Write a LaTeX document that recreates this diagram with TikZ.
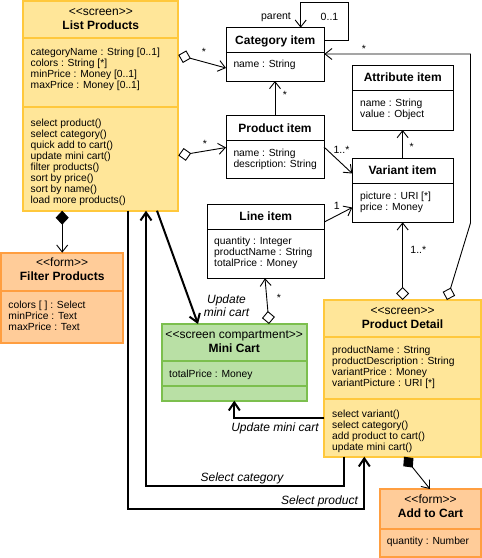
\documentclass[tikz,border=0pt]{standalone}
\usepackage{fontspec}
\newfontfamily\uif{Liberation Sans}
\usetikzlibrary{arrows.meta,calc}
\definecolor{scrfill}{HTML}{FFE699}
\definecolor{scrdraw}{HTML}{FFC83C}
\definecolor{frmfill}{HTML}{FFCC99}
\definecolor{frmdraw}{HTML}{FF9E40}
\definecolor{cmpfill}{HTML}{B9E0A5}
\definecolor{cmpdraw}{HTML}{7CBF4E}
\tikzset{
  cls/.style={rectangle, inner sep=0pt, outer sep=0pt, anchor=north west},
  plainbox/.style={cls, draw=black, fill=white, line width=0.9pt},
  scrbox/.style={cls, draw=scrdraw, fill=scrfill, line width=2pt},
  frmbox/.style={cls, draw=frmdraw, fill=frmfill, line width=2pt},
  cmpbox/.style={cls, draw=cmpdraw, fill=cmpfill, line width=2pt},
  stereo/.style={anchor=base, inner sep=0pt, font=\uif\fontsize{12}{13}\selectfont},
  ttl/.style={anchor=base, inner sep=0pt, font=\uif\bfseries\fontsize{12}{13}\selectfont},
  members/.style={anchor=base west, inner sep=0pt, align=left, font=\uif\fontsize{10.3}{11}\selectfont},
  mult/.style={inner sep=0pt, font=\uif\fontsize{10.5}{11}\selectfont},
  navlbl/.style={inner sep=0pt, font=\uif\itshape\fontsize{12}{13}\selectfont},
  assoc/.style={line width=0.9pt, -{Straight Barb[length=7pt,width=11pt]}},
  aggr/.style={line width=0.9pt, {Diamond[open,fill=white,length=13pt,width=13pt]}-{Straight Barb[length=7pt,width=11pt]}},
  compo/.style={line width=0.9pt, {Diamond[fill=black,length=14pt,width=13pt]}-{Straight Barb[length=7pt,width=11pt]}},
  nav/.style={line width=2pt, -{Straight Barb[length=8pt,width=11pt]}},
}
\begin{document}
\begin{tikzpicture}[x=1pt,y=-1pt]
\useasboundingbox (0,0) rectangle (482,558);

% (multi-line member nodes are anchored at the baseline of their last line)

% ---------- List Products ----------
\node[scrbox, minimum width=155pt, minimum height=209.4pt] (lp) at (23.3,1.3) {};
\draw[scrdraw, line width=2pt] (lp.west |- 0,37.7) -- (lp.east |- 0,37.7)
      (lp.west |- 0,106.7) -- (lp.east |- 0,106.7);
\node[stereo] (lps) at (100.8,15.5) {<<screen>>};
\node[ttl] (lpt) at (100.8,29.3) {List Products};
\node[members] (lpa) at (30.5,88) {categoryName : String [0..1]\\colors : String [*]\\minPrice : Money [0..1]\\maxPrice : Money [0..1]};
\node[members] (lpo) at (30.5,203) {select product()\\select category()\\quick add to cart()\\update mini cart()\\filter products()\\sort by price()\\sort by name()\\load more products()};

% ---------- Filter Products ----------
\node[frmbox, minimum width=121.7pt, minimum height=90pt] (fp) at (1.3,252.7) {};
\draw[frmdraw, line width=2pt] (fp.west |- 0,290.7) -- (fp.east |- 0,290.7);
\node[stereo] (fps) at (62.2,266.5) {<<form>>};
\node[ttl] (fpt) at (62.2,280.5) {Filter Products};
\node[members] (fpa) at (8.3,330) {colors [ ] : Select\\minPrice : Text\\maxPrice : Text};

% ---------- Category item ----------
\node[plainbox, minimum width=98.3pt, minimum height=53.3pt] (cat) at (226,27.7) {};
\draw[line width=0.9pt] (cat.west |- 0,52.3) -- (cat.east |- 0,52.3);
\node[ttl] (catt) at (275.2,44) {Category item};
\node[members] (cata) at (233.3,67) {name : String};

% ---------- Product item ----------
\node[plainbox, minimum width=98pt, minimum height=62.3pt] (prod) at (226,115.7) {};
\draw[line width=0.9pt] (prod.west |- 0,140) -- (prod.east |- 0,140);
\node[ttl] (prodt) at (275,132.3) {Product item};
\node[members] (proda) at (233.3,167) {name : String\\description: String};

% ---------- Attribute item ----------
\node[plainbox, minimum width=101pt, minimum height=65pt] (attr) at (352.3,65) {};
\draw[line width=0.9pt] (attr.west |- 0,90) -- (attr.east |- 0,90);
\node[ttl] (attrt) at (402.8,81.3) {Attribute item};
\node[members] (attra) at (360,117) {name : String\\value : Object};

% ---------- Variant item ----------
\node[plainbox, minimum width=100.7pt, minimum height=64pt] (var) at (352.3,158.3) {};
\draw[line width=0.9pt] (var.west |- 0,183.3) -- (var.east |- 0,183.3);
\node[ttl] (vart) at (402.6,174.6) {Variant item};
\node[members] (vara) at (360,210) {picture : URI [*]\\price : Money};

% ---------- Line item ----------
\node[plainbox, minimum width=117pt, minimum height=74pt] (line) at (207.3,204.3) {};
\draw[line width=0.9pt] (line.west |- 0,229.3) -- (line.east |- 0,229.3);
\node[ttl] (linet) at (265.8,220.6) {Line item};
\node[members] (linea) at (214,266.5) {quantity : Integer\\productName : String\\totalPrice : Money};

% ---------- Mini Cart ----------
\node[cmpbox, minimum width=145pt, minimum height=76.7pt] (mini) at (161.7,324) {};
\draw[cmpdraw, line width=2pt] (mini.west |- 0,361) -- (mini.east |- 0,361)
      (mini.west |- 0,386) -- (mini.east |- 0,386);
\node[stereo] (minis) at (234.2,338.5) {<<screen compartment>>};
\node[ttl] (minit) at (234.2,352.5) {Mini Cart};
\node[members] (minia) at (169,377) {totalPrice : Money};

% ---------- Product Detail ----------
\node[scrbox, minimum width=156.7pt, minimum height=156.7pt] (pd) at (324.3,300) {};
\draw[scrdraw, line width=2pt] (pd.west |- 0,336.7) -- (pd.east |- 0,336.7)
      (pd.west |- 0,399) -- (pd.east |- 0,399);
\node[stereo] (pds) at (402.6,314.5) {<<screen>>};
\node[ttl] (pdt) at (402.6,328.5) {Product Detail};
\node[members] (pda) at (332,386.5) {productName : String\\productDescription : String\\variantPrice : Money\\variantPicture : URI [*]};
\node[members] (pdo) at (332,450) {select variant()\\select category()\\add product to cart()\\update mini cart()};

% ---------- Add to Cart ----------
\node[frmbox, minimum width=101pt, minimum height=67.5pt] (add) at (380,489) {};
\draw[frmdraw, line width=2pt] (add.west |- 0,529) -- (add.east |- 0,529);
\node[stereo] (adds) at (430.5,503.8) {<<form>>};
\node[ttl] (addt) at (430.5,517.8) {Add to Cart};
\node[members] (adda) at (386.7,544.5) {quantity : Number};

% ---------- associations ----------
\draw[aggr] (lp.east |- 0,55) -- (cat.west |- 0,68);
\node[mult] (m1) at (204,52) {*};
\draw[aggr] (lp.east |- 0,155.5) -- (prod.west |- 0,147.5);
\node[mult] (m2) at (205,144) {*};
\draw[assoc] (prod.north) -- (cat.south -| prod.north);
\node[mult] (m3) at (285,95) {*};
\draw[assoc] (prod.east |- 0,147) -- (var.west |- 0,173.5);
\node[mult] (m4) at (341.5,150) {1..*};
\draw[assoc] (var.north) -- (attr.south -| var.north);
\node[mult] (m5) at (411.7,146.7) {*};
\draw[assoc] (line.east |- 0,222) -- (var.west |- 0,207.5);
\node[mult] (m6) at (336.7,206) {1};
\draw[aggr] (pd.north) -- (var.south -| pd.north);
\node[mult] (m7) at (418.3,249.5) {1..*};
\draw[aggr] (pd.north -| 447,0) -- (470.5,223) -- (470.5,54) -- (cat.east |- 0,54);
\node[mult] (m8) at (364,48.5) {*};
\draw[aggr] (mini.north -| 269,0) -- (line.south -| 265,0);
\node[mult] (m9) at (279,297.5) {*};
\draw[assoc] (cat.east |- 0,40.7) -- (348,40.7) -- (348,2) -- (300.7,2) -- (cat.north -| 300.7,0);
\node[mult] (par) at (276,17.5) {parent};
\node[mult] (m10) at (329.5,17) {0..1};

% ---------- compositions ----------
\draw[compo] (lp.south -| 62.2,0) -- (fp.north -| 62.2,0);
\draw[compo] (pd.south -| 404,0) -- (add.north -| 430,0);

% ---------- navigation ----------
\draw[nav] (lp.south -| 157,0) -- (mini.north -| 198,0);
\node[navlbl, align=center] (n1) at (226.5,305.5) {Update\\mini cart};
\draw[nav] (pd.west |- 0,417.7) -- (234.3,417.7) -- (mini.south -| 234.3,0);
\node[navlbl] (n2) at (275,428) {Update mini cart};
\draw[nav] (pd.south -| 344.3,0) -- (344.3,485.7) -- (146,485.7) -- (lp.south -| 146,0);
\node[navlbl] (n3) at (242,478) {Select category};
\draw[nav] (lp.south -| 128,0) -- (128,509.3) -- (364.3,509.3) -- (pd.south -| 364.3,0);
\node[navlbl] (n4) at (319.5,501) {Select product};
\end{tikzpicture}
\end{document}
